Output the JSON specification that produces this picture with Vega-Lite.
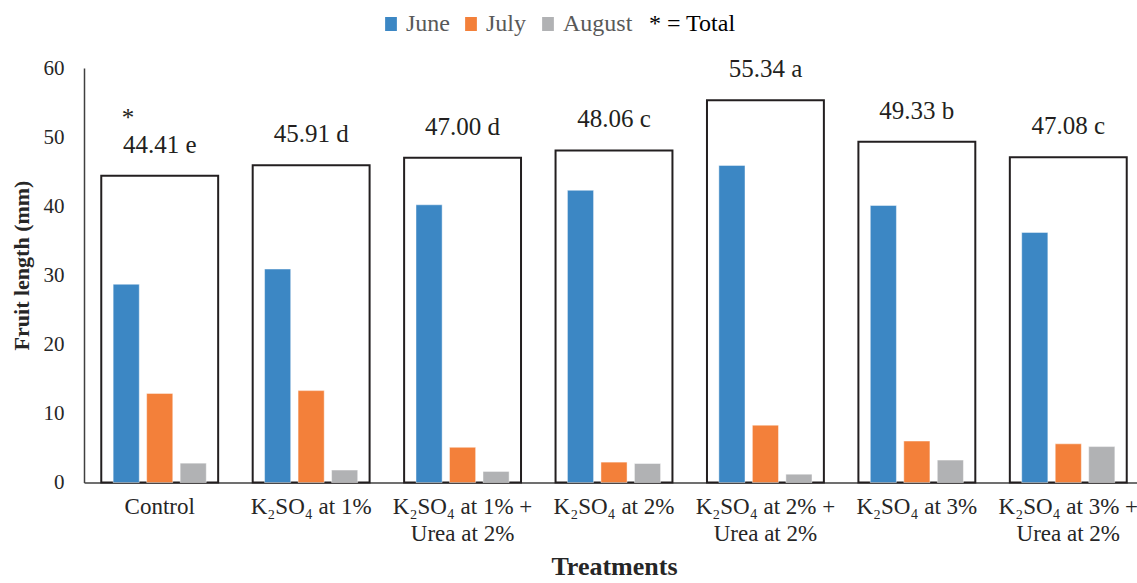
{
  "$schema": "https://vega.github.io/schema/vega-lite/v6.json",
  "width": 1053,
  "height": 414.5,
  "autosize": "none",
  "padding": {"left": 84, "top": 68, "right": 0, "bottom": 100.5},
  "background": "white",
  "config": {
    "view": {"stroke": null},
    "font": "Liberation Serif",
    "text": {"font": "Liberation Serif"},
    "axis": {"grid": false, "ticks": false, "domainColor": "#404040", "domainWidth": 1.5, "labelColor": "#262626", "titleColor": "#262626", "labelFont": "Liberation Serif", "titleFont": "Liberation Serif"},
    "legend": {"labelFont": "Liberation Serif"}
  },
  "datasets": {
    "months": [
      {"treatment": "Control", "month": "June", "value": 28.7},
      {"treatment": "Control", "month": "July", "value": 12.9},
      {"treatment": "Control", "month": "August", "value": 2.8},
      {"treatment": "K₂SO₄ at 1%", "month": "June", "value": 30.9},
      {"treatment": "K₂SO₄ at 1%", "month": "July", "value": 13.3},
      {"treatment": "K₂SO₄ at 1%", "month": "August", "value": 1.8},
      {"treatment": "K₂SO₄ at 1% +|Urea  at 2%", "month": "June", "value": 40.2},
      {"treatment": "K₂SO₄ at 1% +|Urea  at 2%", "month": "July", "value": 5.1},
      {"treatment": "K₂SO₄ at 1% +|Urea  at 2%", "month": "August", "value": 1.6},
      {"treatment": "K₂SO₄ at 2%", "month": "June", "value": 42.3},
      {"treatment": "K₂SO₄ at 2%", "month": "July", "value": 2.95},
      {"treatment": "K₂SO₄ at 2%", "month": "August", "value": 2.75},
      {"treatment": "K₂SO₄ at 2% +|Urea at 2%", "month": "June", "value": 45.9},
      {"treatment": "K₂SO₄ at 2% +|Urea at 2%", "month": "July", "value": 8.3},
      {"treatment": "K₂SO₄ at 2% +|Urea at 2%", "month": "August", "value": 1.2},
      {"treatment": "K₂SO₄ at 3%", "month": "June", "value": 40.1},
      {"treatment": "K₂SO₄ at 3%", "month": "July", "value": 6.0},
      {"treatment": "K₂SO₄ at 3%", "month": "August", "value": 3.25},
      {"treatment": "K₂SO₄ at 3% +|Urea at 2%", "month": "June", "value": 36.2},
      {"treatment": "K₂SO₄ at 3% +|Urea at 2%", "month": "July", "value": 5.6},
      {"treatment": "K₂SO₄ at 3% +|Urea at 2%", "month": "August", "value": 5.2}
    ],
    "totals": [
      {"treatment": "Control", "total": 44.41, "label": "44.41 e", "note": "*"},
      {"treatment": "K₂SO₄ at 1%", "total": 45.91, "label": "45.91 d", "note": ""},
      {"treatment": "K₂SO₄ at 1% +|Urea  at 2%", "total": 47.0, "label": "47.00 d", "note": ""},
      {"treatment": "K₂SO₄ at 2%", "total": 48.06, "label": "48.06 c", "note": ""},
      {"treatment": "K₂SO₄ at 2% +|Urea at 2%", "total": 55.34, "label": "55.34 a", "note": ""},
      {"treatment": "K₂SO₄ at 3%", "total": 49.33, "label": "49.33 b", "note": ""},
      {"treatment": "K₂SO₄ at 3% +|Urea at 2%", "total": 47.08, "label": "47.08 c", "note": ""}
    ]
  },
  "encoding": {
    "x": {
      "field": "treatment",
      "type": "nominal",
      "sort": null,
      "scale": {"range": [0, 1060], "paddingInner": 0, "paddingOuter": 0},
      "axis": {
        "title": "Treatments",
        "titleFontSize": 26,
        "titleFontWeight": "bold",
        "titlePadding": 8,
        "labelFontSize": 23,
        "labelLineHeight": 27,
        "labelPadding": 13,
        "labelAngle": 0,
        "labelExpr": "split(datum.label, '|')"
      }
    }
  },
  "layer": [
    {
      "data": {"name": "totals"},
      "mark": {"type": "bar", "fill": null, "fillOpacity": 0, "stroke": "#231f20", "strokeWidth": 2, "width": {"band": 0.772}},
      "encoding": {
        "y": {
          "field": "total",
          "type": "quantitative",
          "scale": {"domain": [0, 60]},
          "axis": {
            "values": [0, 10, 20, 30, 40, 50, 60],
            "title": "Fruit length (mm)",
            "titleFontSize": 22,
            "titleFontWeight": "bold",
            "titlePadding": 10,
            "titleY": 197,
            "labelFontSize": 21,
            "labelPadding": 20
          }
        }
      }
    },
    {
      "data": {"name": "months"},
      "mark": {"type": "bar", "stroke": "white", "strokeOpacity": 0.45, "strokeWidth": 1},
      "encoding": {
        "y": {"field": "value", "type": "quantitative"},
        "xOffset": {"field": "month", "type": "nominal", "sort": ["June", "July", "August"], "scale": {"domain": ["June", "July", "August"], "paddingInner": 0.22, "paddingOuter": 0.87}},
        "color": {
          "field": "month",
          "type": "nominal",
          "scale": {"domain": ["June", "July", "August", "* = Total"], "range": ["#3c87c4", "#f3803a", "#b1b2b4", "rgba(0,0,0,0)"]},
          "legend": {
            "title": null,
            "orient": "none",
            "direction": "horizontal",
            "legendX": 295,
            "legendY": -56,
            "symbolType": "M-0.84,-1H0.84V1H-0.84Z",
            "symbolSize": 196,
            "symbolStrokeWidth": 0,
            "labelFontSize": 24,
            "labelColor": "#595959",
            "labelOffset": 3,
            "columnPadding": 9,
            "encoding": {
              "labels": {
                "fill": {"condition": {"test": "datum.label === '* = Total'", "value": "#000000"}, "value": "#595959"},
                "dx": {"condition": {"test": "datum.label === '* = Total'", "value": -20}, "value": 0}
              }
            }
          }
        }
      }
    },
    {
      "data": {"name": "totals"},
      "mark": {"type": "text", "font": "Liberation Serif", "fontSize": 25, "color": "#231f20", "baseline": "alphabetic", "dy": -23},
      "encoding": {
        "y": {"field": "total", "type": "quantitative"},
        "text": {"field": "label"}
      }
    },
    {
      "data": {"name": "totals"},
      "transform": [{"filter": "datum.note !== ''"}],
      "mark": {"type": "text", "font": "Liberation Serif", "fontSize": 25, "color": "#231f20", "baseline": "alphabetic", "align": "left", "dx": -38, "dy": -50},
      "encoding": {
        "y": {"field": "total", "type": "quantitative"},
        "text": {"field": "note"}
      }
    }
  ]
}
